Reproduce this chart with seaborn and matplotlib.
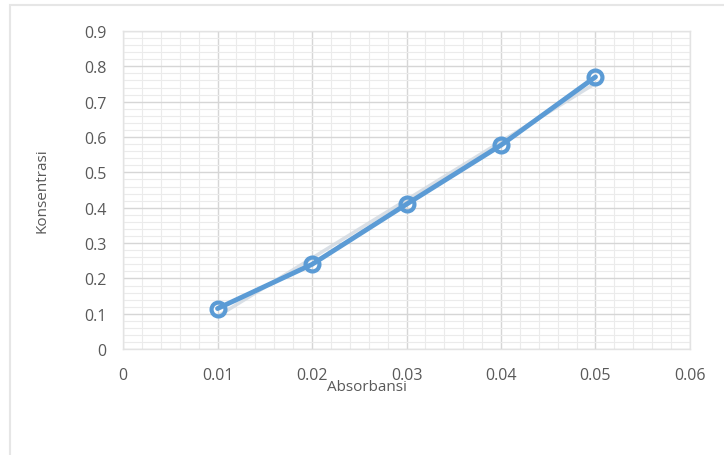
import numpy as np
import pandas as pd
import matplotlib
matplotlib.use('Agg')
import matplotlib.pyplot as plt
import seaborn as sns
from matplotlib.ticker import MultipleLocator
from matplotlib.patches import Rectangle

# data
absorbansi = [0.01, 0.02, 0.03, 0.04, 0.05]
konsentrasi = [0.115, 0.24, 0.41, 0.577, 0.77]

df = pd.DataFrame({'Absorbansi': absorbansi, 'Konsentrasi': konsentrasi})

sns.set_theme(style='white')
plt.rcParams['font.family'] = ['Open Sans', 'DejaVu Sans']

fig = plt.figure(figsize=(7.24, 4.56), dpi=100)
ax = fig.add_axes([0.170, 0.232, 0.783, 0.698])

# outer chart frame
fig.patches.append(Rectangle((0.014, -0.05), 1.1, 1.037, transform=fig.transFigure,
                             fill=False, edgecolor='#e6e6e6', linewidth=1.5))

blue = '#5b9bd5'

# faint trendline behind the series
sns.regplot(data=df, x='Absorbansi', y='Konsentrasi', ax=ax, scatter=False, ci=None,
            truncate=True, line_kws={'color': '#d0d8e0', 'linewidth': 2.5, 'alpha': 0.8})

sns.lineplot(data=df, x='Absorbansi', y='Konsentrasi', ax=ax, color=blue, linewidth=3.5,
             marker='o', markersize=10, markerfacecolor='none', markeredgecolor=blue,
             markeredgewidth=3)

ax.set_xlim(0, 0.06)
ax.set_ylim(0, 0.9)
ax.xaxis.set_major_locator(MultipleLocator(0.01))
ax.xaxis.set_minor_locator(MultipleLocator(0.002))
ax.yaxis.set_major_locator(MultipleLocator(0.1))
ax.yaxis.set_minor_locator(MultipleLocator(0.02))
ax.xaxis.set_major_formatter(matplotlib.ticker.FuncFormatter(lambda v, p: '0' if abs(v) < 1e-9 else f'{v:.2f}'))
ax.yaxis.set_major_formatter(matplotlib.ticker.FuncFormatter(lambda v, p: '0' if abs(v) < 1e-9 else f'{v:.1f}'))

ax.grid(which='major', color='#d6d6d6', linewidth=1.0)
ax.grid(which='minor', color='#ebebeb', linewidth=0.8)
ax.set_axisbelow(True)
for s in ax.spines.values():
    s.set_color('#e3e3e3')
    s.set_linewidth(1.0)

ax.tick_params(axis='both', which='both', length=0, labelsize=11.5, labelcolor='#595959')
ax.tick_params(axis='x', pad=13)
ax.tick_params(axis='y', pad=12)

ax.set_xlabel('Absorbansi', fontsize=11, color='#595959')
ax.set_ylabel('Konsentrasi', fontsize=11, color='#595959')
ax.xaxis.set_label_coords(0.43, -0.095)
ax.yaxis.set_label_coords(-0.13, 0.5)

fig.savefig('out.png', dpi=100, facecolor='white')
